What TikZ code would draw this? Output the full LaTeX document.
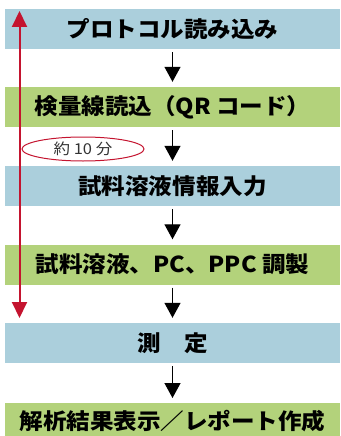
\documentclass[tikz,border=0pt]{standalone}
\usepackage{fontspec}
\newfontfamily\jpbold[FakeStretch=1.07]{Noto Sans CJK JP Black}
\newfontfamily\jpreg[FakeStretch=1.1]{Noto Sans CJK JP}
\usetikzlibrary{arrows.meta,shapes.geometric}
\definecolor{boxblue}{HTML}{ABCFDC}
\definecolor{boxgreen}{HTML}{B3D27B}
\definecolor{redline}{HTML}{C4142F}
\definecolor{txtgray}{HTML}{333333}
\tikzset{
  stepbase/.style={minimum width=335pt, minimum height=40pt, inner sep=0pt, anchor=center,
     font=\jpbold\fontsize{22pt}{24pt}\selectfont, text=black},
  bluebox/.style={stepbase, fill=boxblue},
  greenbox/.style={stepbase, fill=boxgreen},
  flowarrow/.style={line width=1.3pt, -{Triangle[length=15pt,width=16pt]}, shorten <=3pt, shorten >=5pt},
  redarrow/.style={line width=2pt, redline, {Triangle[length=16pt,width=15pt]}-{Triangle[length=16pt,width=15pt]}},
  timeoval/.style={ellipse, draw=redline, line width=1pt, minimum width=122pt, minimum height=24pt, inner sep=0pt,
     font=\jpreg\fontsize{15pt}{17pt}\selectfont, text=txtgray}
}
\begin{document}
\begin{tikzpicture}[x=1pt,y=-1pt]
\useasboundingbox (0,0) rectangle (340,436);
\node[bluebox]  (b1) at (172.5,29) {プロトコル読み込み};
\node[greenbox] (b2) at (172.5,107) {検量線読込（QR コード）};
\node[bluebox]  (b3) at (172.5,186) {試料溶液情報入力};
\node[greenbox] (b4) at (172.5,264.5) {試料溶液、PC、PPC 調製};
\node[bluebox]  (b5) at (172.5,343) {測　定};
\fill[boxgreen] (5,403) rectangle (340,436);
\node[stepbase, minimum height=33pt] (b6) at (172.5,421) {解析結果表示／レポート作成};
\coordinate (b6top) at (172.5,403);
\draw[flowarrow] (b1.south) -- (b2.north);
\draw[flowarrow] (b2.south) -- (b3.north);
\draw[flowarrow] (b3.south) -- (b4.north);
\draw[flowarrow] (b4.south) -- (b5.north);
\draw[flowarrow] (b5.south) -- (b6top);
\node[timeoval] (t) at (83,149) {約 10 分};
\coordinate (rtop) at (19.5,11);
\coordinate (rbot) at (19.5,318);
\draw[redarrow] (rtop) -- (rbot);
\end{tikzpicture}
\end{document}
